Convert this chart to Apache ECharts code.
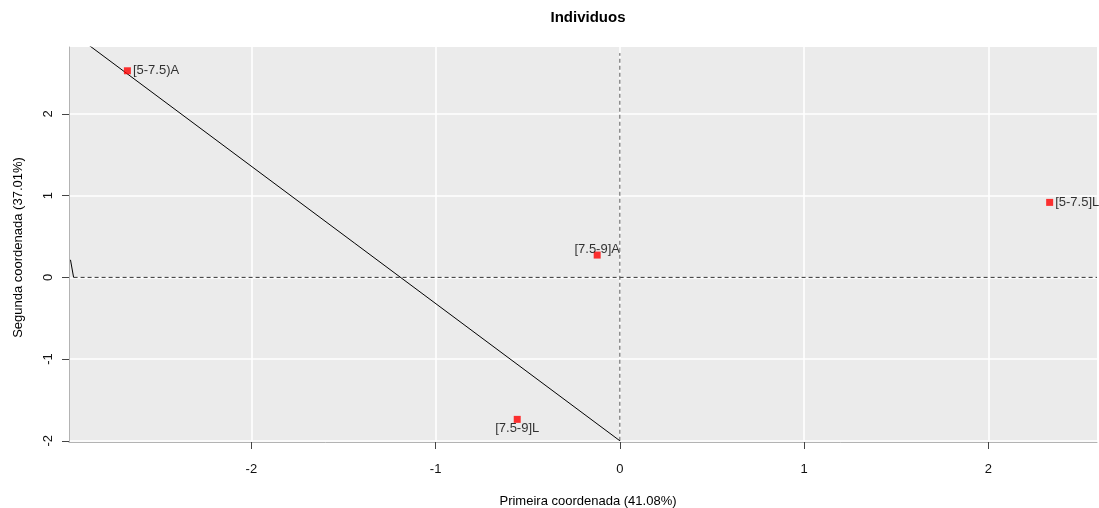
<!DOCTYPE html>
<html>
<head>
<meta charset="utf-8">
<script src="https://cdn.jsdelivr.net/npm/echarts@6/dist/echarts.min.js"></script>
<style>
html,body{margin:0;padding:0;background:#fff;}
#chart{width:1099px;height:508px;}
</style>
</head>
<body>
<div id="chart"></div>
<script>
// ---- data ----
const pointNames = ['[5-7.5)A', '[5-7.5]L', '[7.5-9]A', '[7.5-9]L'];
const pointX = [-2.673, 2.333, -0.123, -0.557];
const pointY = [2.529, 0.918, 0.273, -1.738];

const xTicks = [-2, -1, 0, 1, 2];
const yTicks = [-2, -1, 0, 1, 2];

// reference lines
const diagX = [0, -3.0];
const diagY = [-2.0, 3.04];
const arcX = [-2.965, -2.982];
const arcY = [0, 0.215];
const hDashX = [-2.965, 2.59];
const hDashY = [0, 0];
const vDashX = [0, 0];
const vDashY = [-2.0, 2.745];

const title = 'Individuos';
const xName = 'Primeira coordenada (41.08%)';
const yName = 'Segunda coordenada (37.01%)';

// ---- label placement (style) ----
const labelPlacement = {
  '[5-7.5)A': {position: 'right', distance: 2, offset: [0, 0]},
  '[5-7.5]L': {position: 'right', distance: 2, offset: [0, 0]},
  '[7.5-9]A': {position: 'inside', distance: 0, offset: [0, -6]},
  '[7.5-9]L': {position: 'inside', distance: 0, offset: [0, 9]}
};

const pts = pointNames.map((n, i) => ({
  name: n,
  value: [pointX[i], pointY[i]],
  label: Object.assign({show: true, formatter: n}, labelPlacement[n])
}));
const pairs = (xs, ys) => xs.map((x, i) => [x, ys[i]]);

const font = 'Liberation Sans, Arial, Helvetica, sans-serif';
const chart = echarts.init(document.getElementById('chart'), null, {renderer: 'canvas'});
chart.setOption({
  animation: false,
  backgroundColor: '#ffffff',
  title: {
    text: title, left: 588, top: 10, textAlign: 'center', padding: 0,
    textStyle: {fontFamily: font, fontSize: 15, fontWeight: 'bold', color: '#000'}
  },
  grid: {left: 69, right: 2, top: 47, bottom: 66, show: true, backgroundColor: '#ebebeb', borderWidth: 0,
         containLabel: false, outerBoundsMode: 'none'},
  xAxis: {
    type: 'value', min: -2.99, max: 2.59,
    name: xName, nameLocation: 'middle', nameGap: 53,
    nameTextStyle: {fontFamily: font, fontSize: 13, color: '#000', padding: [0, 0, 0, 10]},
    axisLine: {show: true, onZero: false, lineStyle: {color: '#b3b3b3', width: 1}},
    axisTick: {show: true, length: 7, customValues: xTicks, lineStyle: {color: '#444', width: 1}},
    axisLabel: {customValues: xTicks, margin: 21, fontFamily: font, fontSize: 13, color: '#111'},
    splitLine: {show: true, lineStyle: {color: '#ffffff', width: 1.6}}
  },
  yAxis: {
    type: 'value', min: -2.015, max: 2.82,
    name: yName, nameLocation: 'middle', nameGap: 44,
    nameTextStyle: {fontFamily: font, fontSize: 13, color: '#000', padding: [0, 6, 0, 0]},
    axisLine: {show: true, onZero: false, lineStyle: {color: '#b3b3b3', width: 1}},
    axisTick: {show: true, length: 7, customValues: yTicks, lineStyle: {color: '#444', width: 1}},
    axisLabel: {customValues: yTicks, margin: 14, rotate: 90, fontFamily: font, fontSize: 13, color: '#111'},
    splitLine: {show: true, lineStyle: {color: '#ffffff', width: 1.6}}
  },
  series: [
    {type: 'line', data: pairs(hDashX, hDashY), symbol: 'none', silent: true, z: 3,
     lineStyle: {color: '#333', width: 1, type: [4, 3]}},
    {type: 'line', data: pairs(vDashX, vDashY), symbol: 'none', silent: true, z: 3,
     lineStyle: {color: '#555', width: 1, type: [4, 3]}},
    {type: 'line', data: pairs(diagX, diagY), symbol: 'none', silent: true, z: 4, clip: true,
     lineStyle: {color: '#000', width: 1}},
    {type: 'line', data: pairs(arcX, arcY), symbol: 'none', silent: true, z: 4, clip: true,
     lineStyle: {color: '#000', width: 1}},
    {type: 'scatter', data: pts, symbol: 'rect', symbolSize: 7, z: 5,
     itemStyle: {color: '#ff0000'},
     label: {fontFamily: font, fontSize: 13, color: '#000'}}
  ]
});
</script>
</body>
</html>
